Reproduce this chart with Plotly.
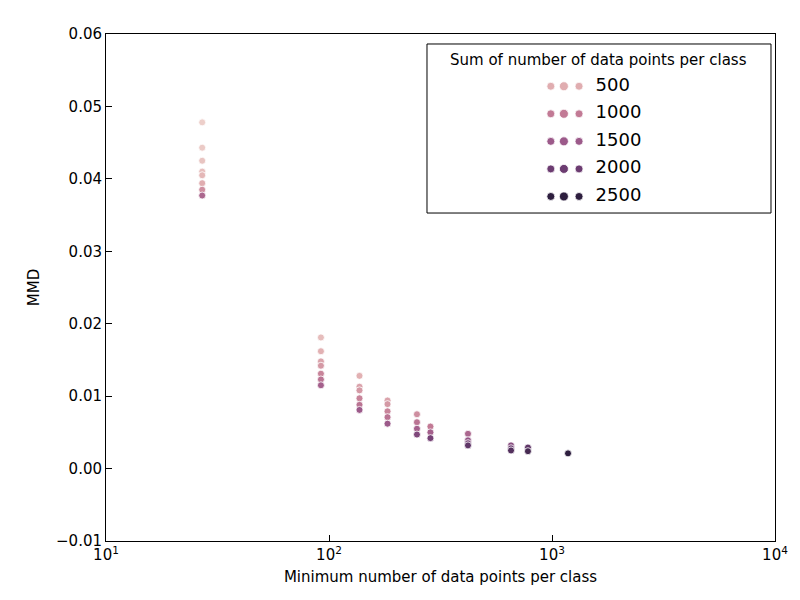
import plotly.graph_objects as go

# minimum points per class, sum of points per class, MMD
min_points = [27]*8 + [92]*7 + [137]*6 + [183]*5 + [248]*4 + [285]*3 + [420]*4 + [655]*3 + [780]*2 + [1180]
mmd = [0.0478, 0.0443, 0.0425, 0.0410, 0.0405, 0.0394, 0.0385, 0.0377,
       0.0181, 0.0162, 0.0148, 0.0142, 0.0131, 0.0123, 0.0115,
       0.0128, 0.0113, 0.0108, 0.0097, 0.0088, 0.0081,
       0.0094, 0.0089, 0.0079, 0.0071, 0.0062,
       0.0075, 0.0064, 0.0055, 0.0047,
       0.0058, 0.0050, 0.0042,
       0.0048, 0.0039, 0.0035, 0.0032,
       0.0032, 0.0028, 0.0025,
       0.0029, 0.0024,
       0.0021]
sum_points = [80, 150, 220, 300, 380, 500, 800, 1300,
              300, 450, 600, 700, 900, 1100, 1400,
              450, 600, 700, 900, 1100, 1500,
              600, 700, 900, 1100, 1500,
              800, 1100, 1400, 1800,
              1000, 1400, 1900,
              1300, 1600, 1900, 2100,
              1700, 2000, 2200,
              2100, 2300,
              2700]
legend_values = [500, 1000, 1500, 2000, 2500]

scale = [[0, "#efd6cf"], [0.2, "#e0adb0"], [0.4, "#c27a95"], [0.6, "#9c5a8a"],
         [0.8, "#6c3c71"], [1, "#2d1e3e"]]

fig = go.Figure()
fig.add_trace(go.Scatter(
    x=min_points, y=mmd, mode="markers",
    marker=dict(size=7, color=sum_points, colorscale=scale, cmin=0, cmax=2500,
                line=dict(color="white", width=0.8)),
    showlegend=False))

# legend drawn on an overlay axis
leg_y = [0.75 - 0.163 * i for i in range(len(legend_values))]
for dx, size in [(0.36, 8), (0.398, 9), (0.442, 8)]:
    fig.add_trace(go.Scatter(
        x=[dx]*len(legend_values), y=leg_y, mode="markers", xaxis="x2", yaxis="y2",
        marker=dict(size=size, color=legend_values, colorscale=scale, cmin=0, cmax=2500,
                    line=dict(color="white", width=0.8)),
        showlegend=False, hoverinfo="skip"))
fig.add_trace(go.Scatter(
    x=[0.49]*len(legend_values), y=leg_y, mode="text", xaxis="x2", yaxis="y2",
    text=[str(v) for v in legend_values], textposition="middle right",
    textfont=dict(size=18, color="black"), showlegend=False, hoverinfo="skip"))

axis = dict(showline=True, mirror=True, linecolor="black", linewidth=1, ticks="inside",
            ticklen=6, tickcolor="black", showgrid=False, zeroline=False, automargin=False,
            tickfont=dict(size=15, color="black"))
fig.update_layout(
    width=800, height=600, plot_bgcolor="white", paper_bgcolor="white",
    margin=dict(l=98, r=33, t=26, b=67),
    font=dict(family="DejaVu Sans", color="black"),
    xaxis=dict(type="log", range=[1, 4], tickvals=[10, 100, 1000, 10000],
               ticktext=["10<sup>1</sup>", "10<sup>2</sup>", "10<sup>3</sup>", "10<sup>4</sup>"],
               title=dict(text="Minimum number of data points per class", font=dict(size=15),
                          standoff=8),
               **axis),
    yaxis=dict(range=[-0.01, 0.06],
               tickvals=[-0.01, 0, 0.01, 0.02, 0.03, 0.04, 0.05, 0.06],
               ticktext=["\u22120.01", "0.00", "0.01", "0.02", "0.03", "0.04", "0.05", "0.06"],
               title=dict(text="MMD", font=dict(size=15), standoff=12), **axis),
    xaxis2=dict(domain=[0.4798, 0.9940], range=[0, 1], visible=False),
    yaxis2=dict(domain=[0.6469, 0.9803], range=[0, 1], anchor="x2", visible=False),
    shapes=[dict(type="rect", xref="x2 domain", yref="y2 domain", x0=0, x1=1, y0=0, y1=1,
                 line=dict(color="black", width=1))],
    annotations=[dict(text="Sum of number of data points per class", xref="x2 domain",
                      yref="y2 domain", x=0.5, y=0.97, yanchor="top", showarrow=False,
                      font=dict(size=15))],
)
fig.write_html("out.html")
